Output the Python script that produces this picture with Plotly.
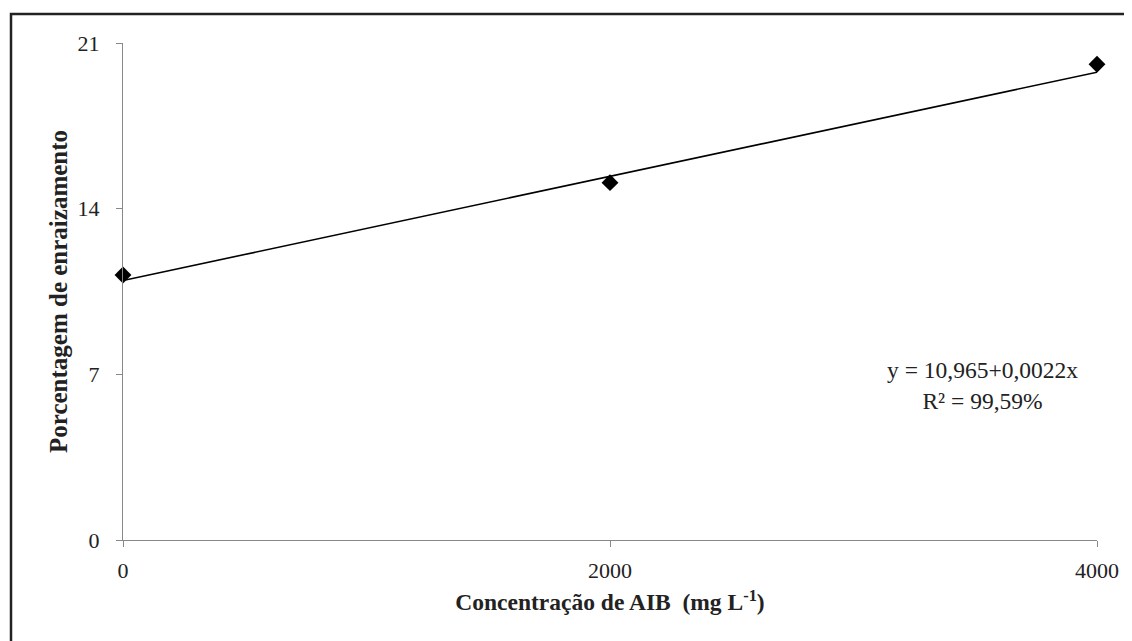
import plotly.graph_objects as go

concentracao = [0, 2000, 4000]
enraizamento = [11.2, 15.1, 20.1]
trend_x = [0, 4000]
trend_y = [10.965, 19.765]
x_ticks = [0, 2000, 4000]
y_ticks = [0, 7, 14, 21]

OFF = 8  # page body margin
W, H = 1132 - OFF, 641 - OFF
L, R, T, B = 123 - OFF, 1097 - OFF, 43 - OFF, 540 - OFF
pw, ph = R - L, B - T

fig = go.Figure()
fig.add_trace(go.Scatter(x=trend_x, y=trend_y, mode="lines",
                         line=dict(color="black", width=1.6), showlegend=False))
fig.add_trace(go.Scatter(x=concentracao, y=enraizamento, mode="markers",
                         marker=dict(symbol="diamond", size=13, color="black"),
                         showlegend=False, cliponaxis=False))

font = "Liberation Serif"
fig.update_layout(
    width=W, height=H,
    margin=dict(l=L, r=W - R, t=T, b=H - B, pad=0),
    paper_bgcolor="white", plot_bgcolor="white",
    font=dict(family=font, size=22, color="#222"),
    xaxis=dict(range=[0, 4000], tickvals=x_ticks, ticktext=[str(v) for v in x_ticks],
               showgrid=False, zeroline=False, showline=True, linecolor="#888", linewidth=1.2,
               ticks="outside", ticklen=6, tickcolor="#888", ticklabelstandoff=4,
               title=dict(text="<b>Concentração de AIB  (mg L<sup>-1</sup>)</b>",
                          font=dict(family=font, size=23.5, color="#222"), standoff=12)),
    yaxis=dict(range=[0, 21], tickvals=y_ticks, ticktext=[str(v) for v in y_ticks],
               showgrid=False, zeroline=False, showline=True, linecolor="#888", linewidth=1.2,
               ticks="outside", ticklen=6, tickcolor="#888", ticklabelstandoff=12,
               title=dict(text="<b>Porcentagem de enraizamento</b>",
                          font=dict(family=font, size=25, color="#222"), standoff=2)),
    shapes=[dict(type="rect", xref="paper", yref="paper",
                 x0=(11 - 123) / pw, x1=(1160 - 123) / pw,
                 y0=(540 - 680) / ph, y1=(540 - 14) / ph,
                 line=dict(color="#222", width=2.5), fillcolor="rgba(0,0,0,0)", layer="above")],
    annotations=[dict(xref="paper", yref="paper", x=(982 - 123) / pw, y=(540 - 385) / ph,
                      xanchor="center", yanchor="middle",
                      text="y = 10,965+0,0022x<br>R² = 99,59%", showarrow=False,
                      align="center", font=dict(family=font, size=23.5, color="#222"))],
)

fig.write_html("out.html")
